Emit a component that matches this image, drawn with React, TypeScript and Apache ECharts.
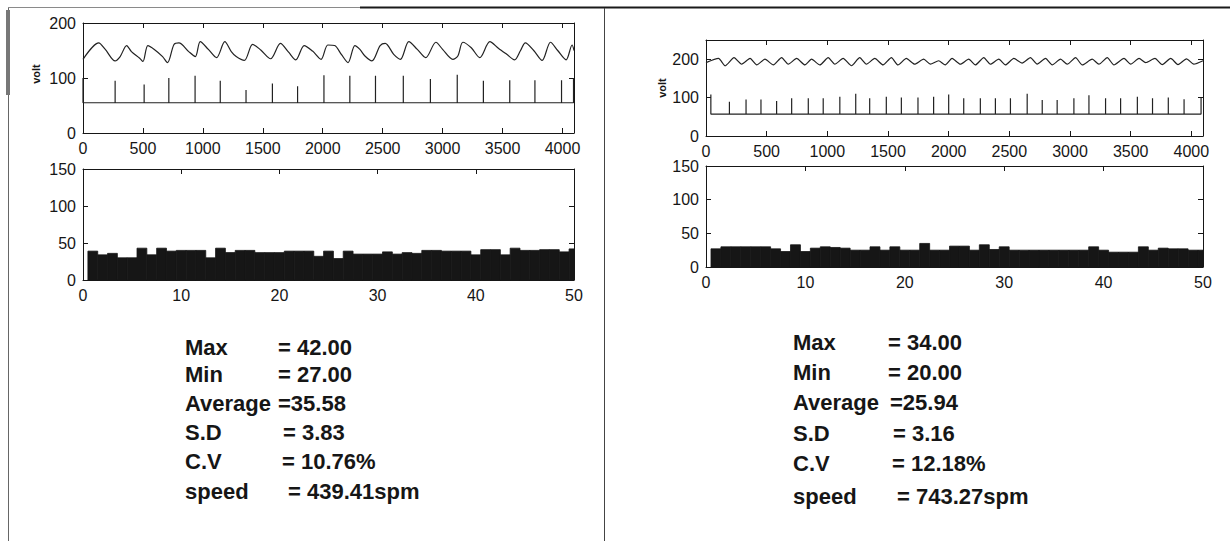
import React, { useEffect, useRef } from "react";
import * as echarts from "echarts";

// ---------- DATA ----------
// Top-left signal: wave trace [sample, volt]
const waveLeft: [number, number][] = [
  [0, 134], [131, 164], [186, 152], [268, 131], [310, 139], [364, 159], [404, 148], [473, 136],
  [500, 130], [541, 159], [595, 152], [664, 139], [705, 128], [759, 161], [800, 164], [882, 148],
  [937, 139], [978, 166], [1046, 152], [1114, 137], [1183, 166], [1237, 148], [1278, 139], [1346, 132],
  [1415, 161], [1483, 151], [1565, 135], [1647, 163], [1715, 147], [1775, 133], [1845, 159], [1915, 149],
  [1986, 134], [2042, 160], [2099, 159], [2155, 143], [2211, 128], [2268, 159], [2310, 152], [2352, 140],
  [2410, 131], [2479, 159], [2521, 163], [2592, 143], [2648, 134], [2718, 166], [2789, 152], [2859, 137],
  [2944, 165], [3000, 152], [3085, 134], [3127, 140], [3169, 165], [3239, 155], [3310, 137], [3394, 166],
  [3465, 154], [3535, 143], [3600, 133], [3650, 150], [3690, 164], [3760, 150], [3830, 132], [3900, 165],
  [3960, 150], [4030, 133], [4080, 160], [4096, 150],
];
// Top-left pulse trace: baseline and spikes [sample, peak volt]
const pulseBaseLeft = 55;
const pulseSpikesLeft: [number, number][] = [
  [0, 100], [268, 95], [510, 88], [716, 100], [935, 104], [1145, 95], [1360, 78], [1580, 90],
  [1790, 85], [2010, 105], [2226, 104], [2440, 104], [2672, 104], [2898, 98], [3122, 106], [3340, 95],
  [3560, 96], [3770, 96], [3992, 96], [4092, 100],
];
// Top-right signal: wave trace
const waveRight: [number, number][] = [
  [0, 191], [103, 202], [158, 183], [231, 204], [294, 187], [363, 202], [418, 185], [486, 200],
  [555, 185], [623, 204], [678, 187], [747, 202], [815, 185], [870, 200], [938, 185], [1007, 204],
  [1062, 187], [1130, 202], [1199, 183], [1267, 204], [1322, 187], [1391, 202], [1459, 185], [1528, 204],
  [1582, 185], [1651, 202], [1719, 187], [1794, 200], [1849, 187], [1917, 196], [1972, 185], [2028, 202],
  [2096, 187], [2165, 200], [2220, 185], [2289, 204], [2344, 187], [2413, 200], [2468, 185], [2537, 202],
  [2605, 190], [2674, 204], [2729, 187], [2798, 202], [2853, 185], [2922, 200], [2977, 187], [3046, 204],
  [3101, 185], [3183, 200], [3238, 187], [3307, 204], [3362, 185], [3445, 202], [3500, 187], [3569, 202],
  [3624, 191], [3700, 202], [3760, 186], [3830, 202], [3890, 186], [3960, 201], [4020, 187], [4096, 196],
];
const pulseBaseRight = 57;
const pulseSpikesRight: [number, number][] = [
  [40, 108], [193, 89], [330, 95], [453, 95], [582, 91], [706, 98], [843, 98], [966, 98],
  [1103, 102], [1234, 110], [1349, 98], [1486, 102], [1610, 100], [1747, 100], [1876, 102], [2000, 108],
  [2124, 98], [2261, 98], [2385, 98], [2509, 98], [2647, 110], [2771, 94], [2894, 94], [3032, 98],
  [3156, 106], [3293, 98], [3417, 98], [3555, 102], [3680, 98], [3810, 100], [3940, 96], [4080, 100],
];
// Bar (histogram) values, positions 1..50
const barsLeft = [
  39, 34, 36, 30, 30, 43, 34, 43, 39, 40, 40, 40, 30, 43, 37, 40, 40, 37, 37, 37,
  39, 39, 39, 32, 39, 29, 39, 35, 35, 35, 38, 35, 37, 36, 40, 40, 39, 39, 39, 34,
  41, 41, 34, 43, 40, 40, 41, 41, 38, 42,
];
const barsRight = [
  27, 30, 30, 30, 30, 30, 27, 23, 33, 23, 28, 30, 29, 28, 25, 25, 30, 25, 30, 25,
  25, 35, 25, 25, 31, 31, 25, 33, 26, 30, 25, 25, 25, 25, 25, 25, 25, 25, 30, 25,
  22, 22, 22, 30, 25, 28, 27, 27, 25, 25,
];
// Statistics text
const statLabels = ["Max", "Min", "Average", "S.D", "C.V", "speed"];
const statValuesLeft = ["= 42.00", "= 27.00", "=35.58", "= 3.83", "= 10.76%", "= 439.41spm"];
const statValuesRight = ["= 34.00", "= 20.00", "=25.94", "= 3.16", "= 12.18%", "= 743.27spm"];
const yAxisName = "volt";

// ---------- helpers ----------
const INK = "#161616";
const FONT = "Liberation Sans";

function spikesToLine(base: number, spikes: [number, number][]): [number, number][] {
  const out: [number, number][] = [];
  spikes.forEach(([x, top]) => {
    out.push([x, base], [x, top], [x, base]);
  });
  return out;
}

function axisCommon(show: boolean) {
  return {
    axisLine: { show: true, onZero: false, lineStyle: { color: INK, width: 1 } },
    axisTick: { show: true, inside: true, length: 5, lineStyle: { color: INK } },
    splitLine: { show: false },
    axisLabel: {
      show, color: INK, fontSize: 16, fontFamily: FONT, margin: 7, showMaxLabel: false,
      formatter: (v: number) => String(v),
    },
  };
}

function barRender(params: any, api: any) {
  const x = api.value(0);
  const y = api.value(1);
  const p0 = api.coord([x - 0.5, y]);
  const p1 = api.coord([x + 0.5, 0]);
  const cs = params.coordSys;
  const rect = echarts.graphic.clipRectByRect(
    { x: p0[0], y: p0[1], width: p1[0] - p0[0], height: p1[1] - p0[1] },
    { x: cs.x, y: cs.y, width: cs.width, height: cs.height }
  );
  return rect ? { type: "rect", shape: rect, style: { fill: INK, stroke: INK, lineWidth: 0.8 } } : null;
}

export default function App() {
  const ref = useRef<HTMLDivElement>(null);
  useEffect(() => {
    document.body.style.margin = "0";
    const chart = echarts.init(ref.current!, null, { renderer: "svg" });

    const grids = [
      { left: 83, top: 23, width: 491, height: 110 },
      { left: 83, top: 169, width: 491, height: 111 },
      { left: 706, top: 40, width: 497, height: 96 },
      { left: 706, top: 166, width: 497, height: 101 },
    ];
    const xSpec = [
      { min: 0, max: 4096, interval: 500 },
      { min: 0, max: 50, interval: 10 },
      { min: 0, max: 4096, interval: 500 },
      { min: 0, max: 50, interval: 10 },
    ];
    const ySpec = [
      { min: 0, max: 200, interval: 100 },
      { min: 0, max: 150, interval: 50 },
      { min: 0, max: 250, interval: 100 },
      { min: 0, max: 150, interval: 50 },
    ];
    const xAxis: any[] = [];
    const yAxis: any[] = [];
    grids.forEach((_, i) => {
      xAxis.push({ type: "value", gridIndex: i, position: "bottom", ...xSpec[i], ...axisCommon(true) });
      xAxis.push({ type: "value", gridIndex: i, position: "top", ...xSpec[i], ...axisCommon(false) });
      yAxis.push({ type: "value", gridIndex: i, position: "left", ...ySpec[i], ...axisCommon(true) });
      yAxis.push({ type: "value", gridIndex: i, position: "right", ...ySpec[i], ...axisCommon(false) });
    });
    xAxis[2].axisLabel.showMaxLabel = true;
    xAxis[6].axisLabel.showMaxLabel = true;
    yAxis[2].axisLabel.showMaxLabel = true;
    yAxis[6].axisLabel.showMaxLabel = true;
    yAxis[0].axisLabel.showMaxLabel = true;

    const lineSeries = (data: [number, number][], gi: number, smooth = 0) => ({
      type: "line",
      xAxisIndex: gi * 2,
      yAxisIndex: gi * 2,
      data,
      smooth,
      showSymbol: false,
      symbol: "none",
      lineStyle: { color: "#222", width: 1.2 },
      silent: true,
    });

    const nameStyle = { text: yAxisName, fontSize: 11, fontWeight: "bold", fontFamily: FONT, fill: INK, align: "center", verticalAlign: "middle" };
    const graphic: any[] = [
      // frame
      { type: "line", shape: { x1: 8, y1: 7.5, x2: 360, y2: 7.5 }, style: { stroke: "#8a8a8a", lineWidth: 1 } },
      { type: "line", shape: { x1: 360, y1: 7.5, x2: 1230, y2: 7.5 }, style: { stroke: "#1a1a1a", lineWidth: 2 } },
      { type: "line", shape: { x1: 8.5, y1: 8, x2: 8.5, y2: 541 }, style: { stroke: "#666", lineWidth: 1 } },
      { type: "rect", shape: { x: 6, y: 10, width: 4, height: 85 }, style: { fill: "#777" } },
      { type: "line", shape: { x1: 604.5, y1: 8, x2: 604.5, y2: 541 }, style: { stroke: "#444", lineWidth: 1 } },
      // y-axis names
      { type: "text", x: 36, y: 74, rotation: Math.PI / 2, style: nameStyle },
      { type: "text", x: 662, y: 88, rotation: Math.PI / 2, style: nameStyle },
    ];
    const leftY = [347, 374, 403, 432, 461, 491];
    const leftVX = [278, 278, 278, 283, 282, 288];
    const rightY = [342, 372, 402, 433, 463, 496];
    const rightVX = [888, 888, 890, 893, 892, 897];
    const textStyle = (t: string) => ({ text: t, fontSize: 22, fontWeight: "bold", fontFamily: FONT, fill: INK, verticalAlign: "middle" });
    statLabels.forEach((lab, i) => {
      graphic.push({ type: "text", x: 185, y: leftY[i], style: textStyle(lab) });
      graphic.push({ type: "text", x: leftVX[i], y: leftY[i], style: textStyle(statValuesLeft[i]) });
      graphic.push({ type: "text", x: 793, y: rightY[i], style: textStyle(lab) });
      graphic.push({ type: "text", x: rightVX[i], y: rightY[i], style: textStyle(statValuesRight[i]) });
    });

    chart.setOption({
      animation: false,
      backgroundColor: "#fff",
      grid: grids,
      xAxis,
      yAxis,
      series: [
        lineSeries(waveLeft, 0, 0.3),
        lineSeries(spikesToLine(pulseBaseLeft, pulseSpikesLeft), 0),
        lineSeries(waveRight, 2, 0.2),
        lineSeries(spikesToLine(pulseBaseRight, pulseSpikesRight), 2),
        {
          type: "custom", xAxisIndex: 2, yAxisIndex: 2, renderItem: barRender,
          data: barsLeft.map((v, i) => [i + 1, v]), encode: { x: 0, y: 1 }, silent: true,
        },
        {
          type: "custom", xAxisIndex: 6, yAxisIndex: 6, renderItem: barRender,
          data: barsRight.map((v, i) => [i + 1, v]), encode: { x: 0, y: 1 }, silent: true,
        },
      ],
      graphic,
    });
    return () => chart.dispose();
  }, []);
  return <div ref={ref} style={{ width: 1230, height: 541 }} />;
}
